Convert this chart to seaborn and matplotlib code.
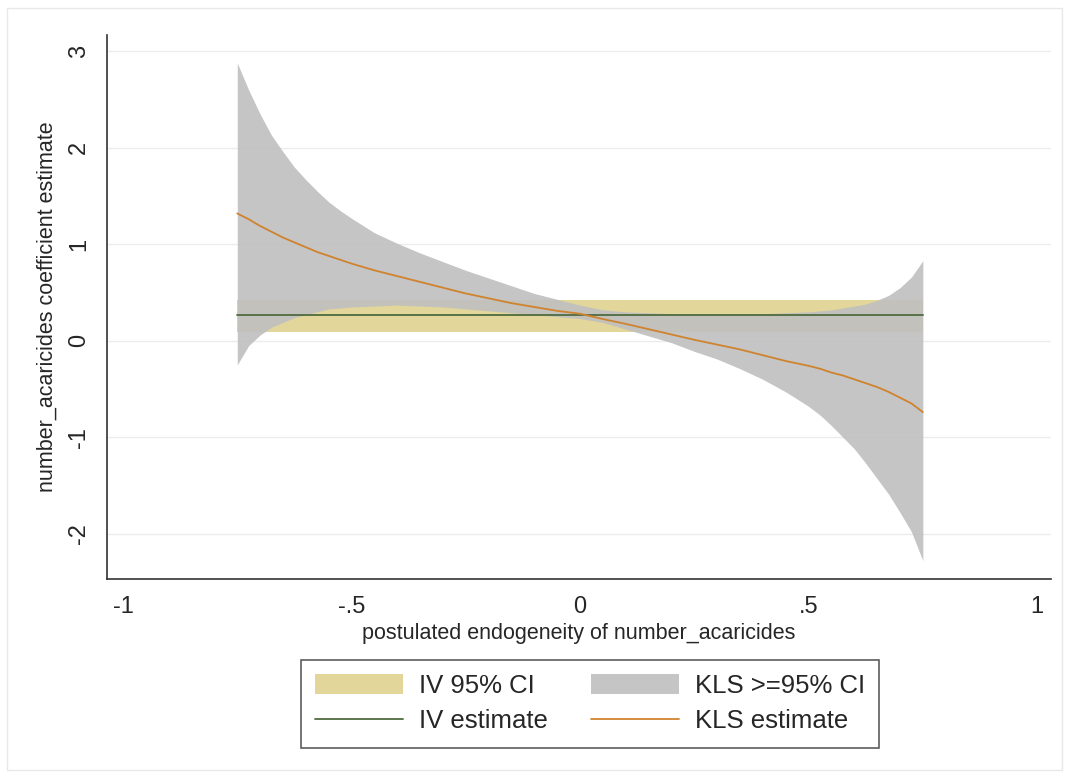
import numpy as np
import pandas as pd
import matplotlib
matplotlib.use("Agg")
import matplotlib.pyplot as plt
import seaborn as sns
from matplotlib.patches import Rectangle

# postulated endogeneity grid
rho = [-0.75, -0.725, -0.7, -0.675, -0.65, -0.625, -0.6, -0.575, -0.55, -0.525, -0.5,
       -0.45, -0.4, -0.35, -0.3, -0.25, -0.2, -0.15, -0.1, -0.05, 0.0,
       0.05, 0.1, 0.15, 0.2, 0.25, 0.3, 0.35, 0.4, 0.45,
       0.5, 0.525, 0.55, 0.575, 0.6, 0.625, 0.65, 0.675, 0.7, 0.725, 0.75]

kls_est = [1.32, 1.26, 1.19, 1.13, 1.07, 1.02, 0.97, 0.92, 0.88, 0.84, 0.80,
           0.73, 0.67, 0.61, 0.55, 0.49, 0.44, 0.39, 0.35, 0.31, 0.28,
           0.225, 0.175, 0.12, 0.065, 0.01, -0.04, -0.09, -0.15, -0.21,
           -0.26, -0.29, -0.33, -0.36, -0.40, -0.44, -0.48, -0.53, -0.59, -0.65, -0.74]

kls_hi = [2.88, 2.60, 2.35, 2.13, 1.96, 1.80, 1.67, 1.55, 1.44, 1.35, 1.27,
          1.12, 1.01, 0.91, 0.82, 0.73, 0.65, 0.57, 0.49, 0.43, 0.37,
          0.32, 0.30, 0.29, 0.28, 0.28, 0.28, 0.28, 0.28, 0.29,
          0.30, 0.31, 0.32, 0.34, 0.36, 0.38, 0.42, 0.47, 0.55, 0.66, 0.83]

kls_lo = [-0.25, -0.05, 0.06, 0.14, 0.19, 0.24, 0.27, 0.30, 0.33, 0.34, 0.35,
          0.36, 0.37, 0.36, 0.35, 0.33, 0.31, 0.29, 0.27, 0.25, 0.23,
          0.19, 0.12, 0.05, -0.02, -0.11, -0.19, -0.29, -0.40, -0.53,
          -0.68, -0.77, -0.88, -1.00, -1.12, -1.27, -1.43, -1.59, -1.78, -1.98, -2.28]

iv_est = 0.27
iv_lo = 0.09
iv_hi = 0.42

df = pd.DataFrame({"rho": rho, "kls": kls_est, "lo": kls_lo, "hi": kls_hi})
df["iv"] = iv_est

sns.set_style("white")
plt.rcParams["font.family"] = ["Liberation Sans", "DejaVu Sans"]

yellow = "#e2d69a"
grey = "#bfbfbf"
green = "#4e6b3e"
orange = "#d0832e"

fig = plt.figure(figsize=(10.69, 7.78), dpi=100)
ax = fig.add_axes([0.1001, 0.2558, 0.8829, 0.6992])

ax.fill_between(df["rho"], iv_lo, iv_hi, color=yellow, lw=0, label="IV 95% CI")
ax.fill_between(df["rho"], df["lo"], df["hi"], color=grey, alpha=0.9, lw=0,
                label="KLS >=95% CI")
sns.lineplot(data=df, x="rho", y="iv", color=green, lw=1.3, ax=ax, label="IV estimate")
sns.lineplot(data=df, x="rho", y="kls", color=orange, lw=1.3, ax=ax, label="KLS estimate")

ax.set_xlim(-1.035, 1.03)
ax.set_ylim(-2.47, 3.17)
ax.set_xticks([-1, -0.5, 0, 0.5, 1])
ax.set_xticklabels(["-1", "-.5", "0", ".5", "1"])
ax.set_yticks([-2, -1, 0, 1, 2, 3])
ax.set_yticklabels(["-2", "-1", "0", "1", "2", "3"], rotation=90, va="center")
ax.tick_params(axis="both", direction="out", length=7, width=1, color="#333333",
               labelsize=17, pad=5)
ax.grid(axis="y", color="#ececec", lw=1)
ax.set_axisbelow(True)
for s in ["top", "right"]:
    ax.spines[s].set_visible(False)
for s in ["left", "bottom"]:
    ax.spines[s].set_color("#333333")
    ax.spines[s].set_linewidth(1.2)

ax.set_xlabel("postulated endogeneity of number_acaricides", fontsize=15.5, labelpad=4)
ax.set_ylabel("number_acaricides coefficient estimate", fontsize=15.5, labelpad=8)

h, l = ax.get_legend_handles_labels()
order = ["IV 95% CI", "IV estimate", "KLS >=95% CI", "KLS estimate"]
hl = dict(zip(l, h))
leg = ax.legend([hl[k] for k in order], order, ncol=2, loc="center",
                bbox_to_anchor=(0.5117, -0.229), fontsize=18.5, frameon=True,
                fancybox=False, edgecolor="#333333", handlelength=3.42,
                handleheight=0.86, columnspacing=1.67, labelspacing=0.44,
                borderpad=0.55, handletextpad=0.62)
leg.get_frame().set_linewidth(1.2)

fig.patches.append(Rectangle((0.007, 0.01), 0.986, 0.98, transform=fig.transFigure,
                             fill=False, edgecolor="#e8e8e8", lw=1))

fig.savefig("out.png", dpi=100)
